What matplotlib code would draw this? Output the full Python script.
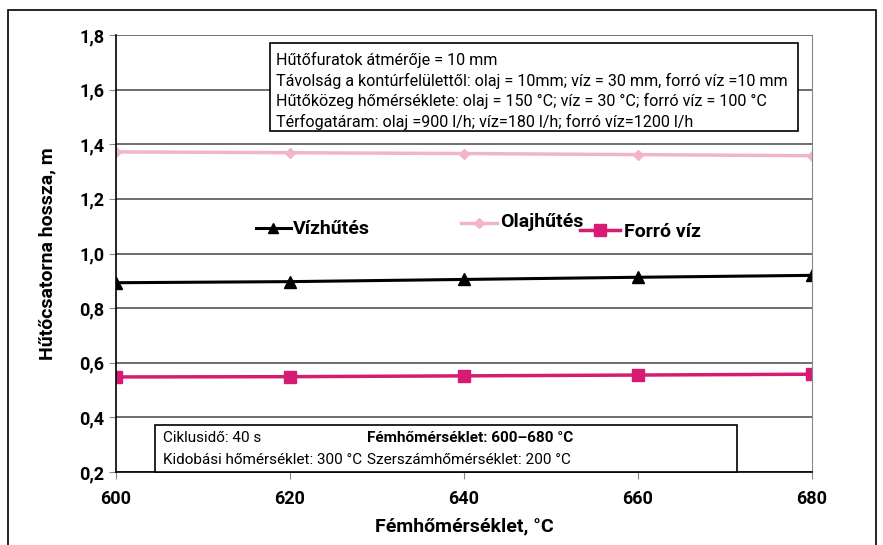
import matplotlib.pyplot as plt
from matplotlib.patches import Rectangle
from matplotlib.ticker import FuncFormatter

plt.rcParams['font.family'] = ['Roboto', 'DejaVu Sans']

# adatok
homerseklet = [600, 620, 640, 660, 680]
vizhutes = [0.893, 0.897, 0.905, 0.913, 0.92]
olajhutes = [1.372, 1.369, 1.366, 1.362, 1.358]
forro_viz = [0.548, 0.549, 0.552, 0.555, 0.558]

fig = plt.figure(figsize=(8.83, 5.45), dpi=100)
ax = fig.add_axes([116 / 883, 1 - 472 / 545, 696 / 883, 437 / 545])

# kulso keret
fig.patches.append(Rectangle((8 / 883, -0.02), 868 / 883, 1.02 - 10 / 545,
                             transform=fig.transFigure, fill=False,
                             edgecolor='black', linewidth=1.2))

ax.plot(homerseklet, olajhutes, color='#f2b5c8', linewidth=2.5,
        marker='D', markersize=5, label='Olajhűtés')
ax.plot(homerseklet, vizhutes, color='black', linewidth=2.2,
        marker='^', markersize=8, label='Vízhűtés')
ax.plot(homerseklet, forro_viz, color='#d81b72', linewidth=2.5,
        marker='s', markersize=9, label='Forró víz')

ax.set_xlim(600, 680)
ax.set_ylim(0.2, 1.8)
ax.set_xticks(homerseklet)
ax.set_yticks([0.2, 0.4, 0.6, 0.8, 1.0, 1.2, 1.4, 1.6, 1.8])
ax.yaxis.set_major_formatter(FuncFormatter(lambda v, p: f"{v:.1f}".replace('.', ',')))
ax.grid(axis='y', color='#555555', linewidth=1.2)
ax.grid(axis='x', visible=False)
ax.spines['top'].set_visible(False)
ax.spines['right'].set_color('#888888')
ax.spines['left'].set_linewidth(1.2)
ax.spines['bottom'].set_linewidth(1.2)
ax.tick_params(axis='both', direction='out', length=5, color='#888888',
               labelsize=13)
for lab in ax.get_xticklabels() + ax.get_yticklabels():
    lab.set_fontweight('bold')
ax.tick_params(axis='x', pad=8)

ax.set_xlabel('Fémhőmérséklet, °C', fontsize=14, fontweight='bold', labelpad=7)
ax.set_ylabel('Hűtőcsatorna hossza, m', fontsize=14, fontweight='bold', labelpad=16)

# beepitett jelmagyarazat
ax.plot([616.1, 620.1], [1.093, 1.093], color='black', linewidth=2.2)
ax.plot([618.1], [1.093], color='black', marker='^', markersize=7)
ax.text(620.3, 1.091, 'Vízhűtés', fontsize=14, fontweight='bold', va='center')

ax.plot([639.6, 643.8], [1.113, 1.113], color='#f2b5c8', linewidth=2.5)
ax.plot([641.7], [1.113], color='#f2b5c8', marker='D', markersize=5)
ax.text(644.1, 1.116, 'Olajhűtés', fontsize=14, fontweight='bold', va='center')

ax.plot([653.3, 657.9], [1.085, 1.085], color='#d81b72', linewidth=2.5)
ax.plot([655.6], [1.085], color='#d81b72', marker='s', markersize=8)
ax.text(658.4, 1.077, 'Forró víz', fontsize=14, fontweight='bold', va='center')

# felso szovegdoboz
felso = ('Hűtőfuratok átmérője = 10 mm\n'
         'Távolság a kontúrfelülettől: olaj = 10mm; víz = 30 mm, forró víz =10 mm\n'
         'Hűtőközeg hőmérséklete: olaj = 150 °C; víz = 30 °C; forró víz = 100 °C\n'
         'Térfogatáram: olaj =900 l/h; víz=180 l/h; forró víz=1200 l/h')
fig.patches.append(Rectangle((270 / 883, 1 - 131 / 545), 528 / 883, 88 / 545,
                             transform=fig.transFigure, facecolor='white',
                             edgecolor='black', linewidth=1.2, zorder=5))
fig.text(276 / 883, 1 - 91 / 545, felso, fontsize=11.6, va='center', ha='left',
         linespacing=1.38, zorder=6)

# also szovegdoboz
fig.patches.append(Rectangle((155 / 883, 1 - 472 / 545), 582 / 883, 47 / 545,
                             transform=fig.transFigure, facecolor='white',
                             edgecolor='black', linewidth=1.2, zorder=5))
fig.text(163 / 883, 1 - 438 / 545, 'Ciklusidő: 40 s', fontsize=11,
         va='center', zorder=6)
fig.text(163 / 883, 1 - 460 / 545, 'Kidobási hőmérséklet: 300 °C', fontsize=11,
         va='center', zorder=6)
fig.text(367 / 883, 1 - 438 / 545, 'Fémhőmérséklet: 600–680 °C', fontsize=11,
         fontweight='bold', va='center', zorder=6)
fig.text(367 / 883, 1 - 460 / 545, 'Szerszámhőmérséklet: 200 °C', fontsize=11,
         va='center', zorder=6)

fig.savefig('out.png', dpi=100)
